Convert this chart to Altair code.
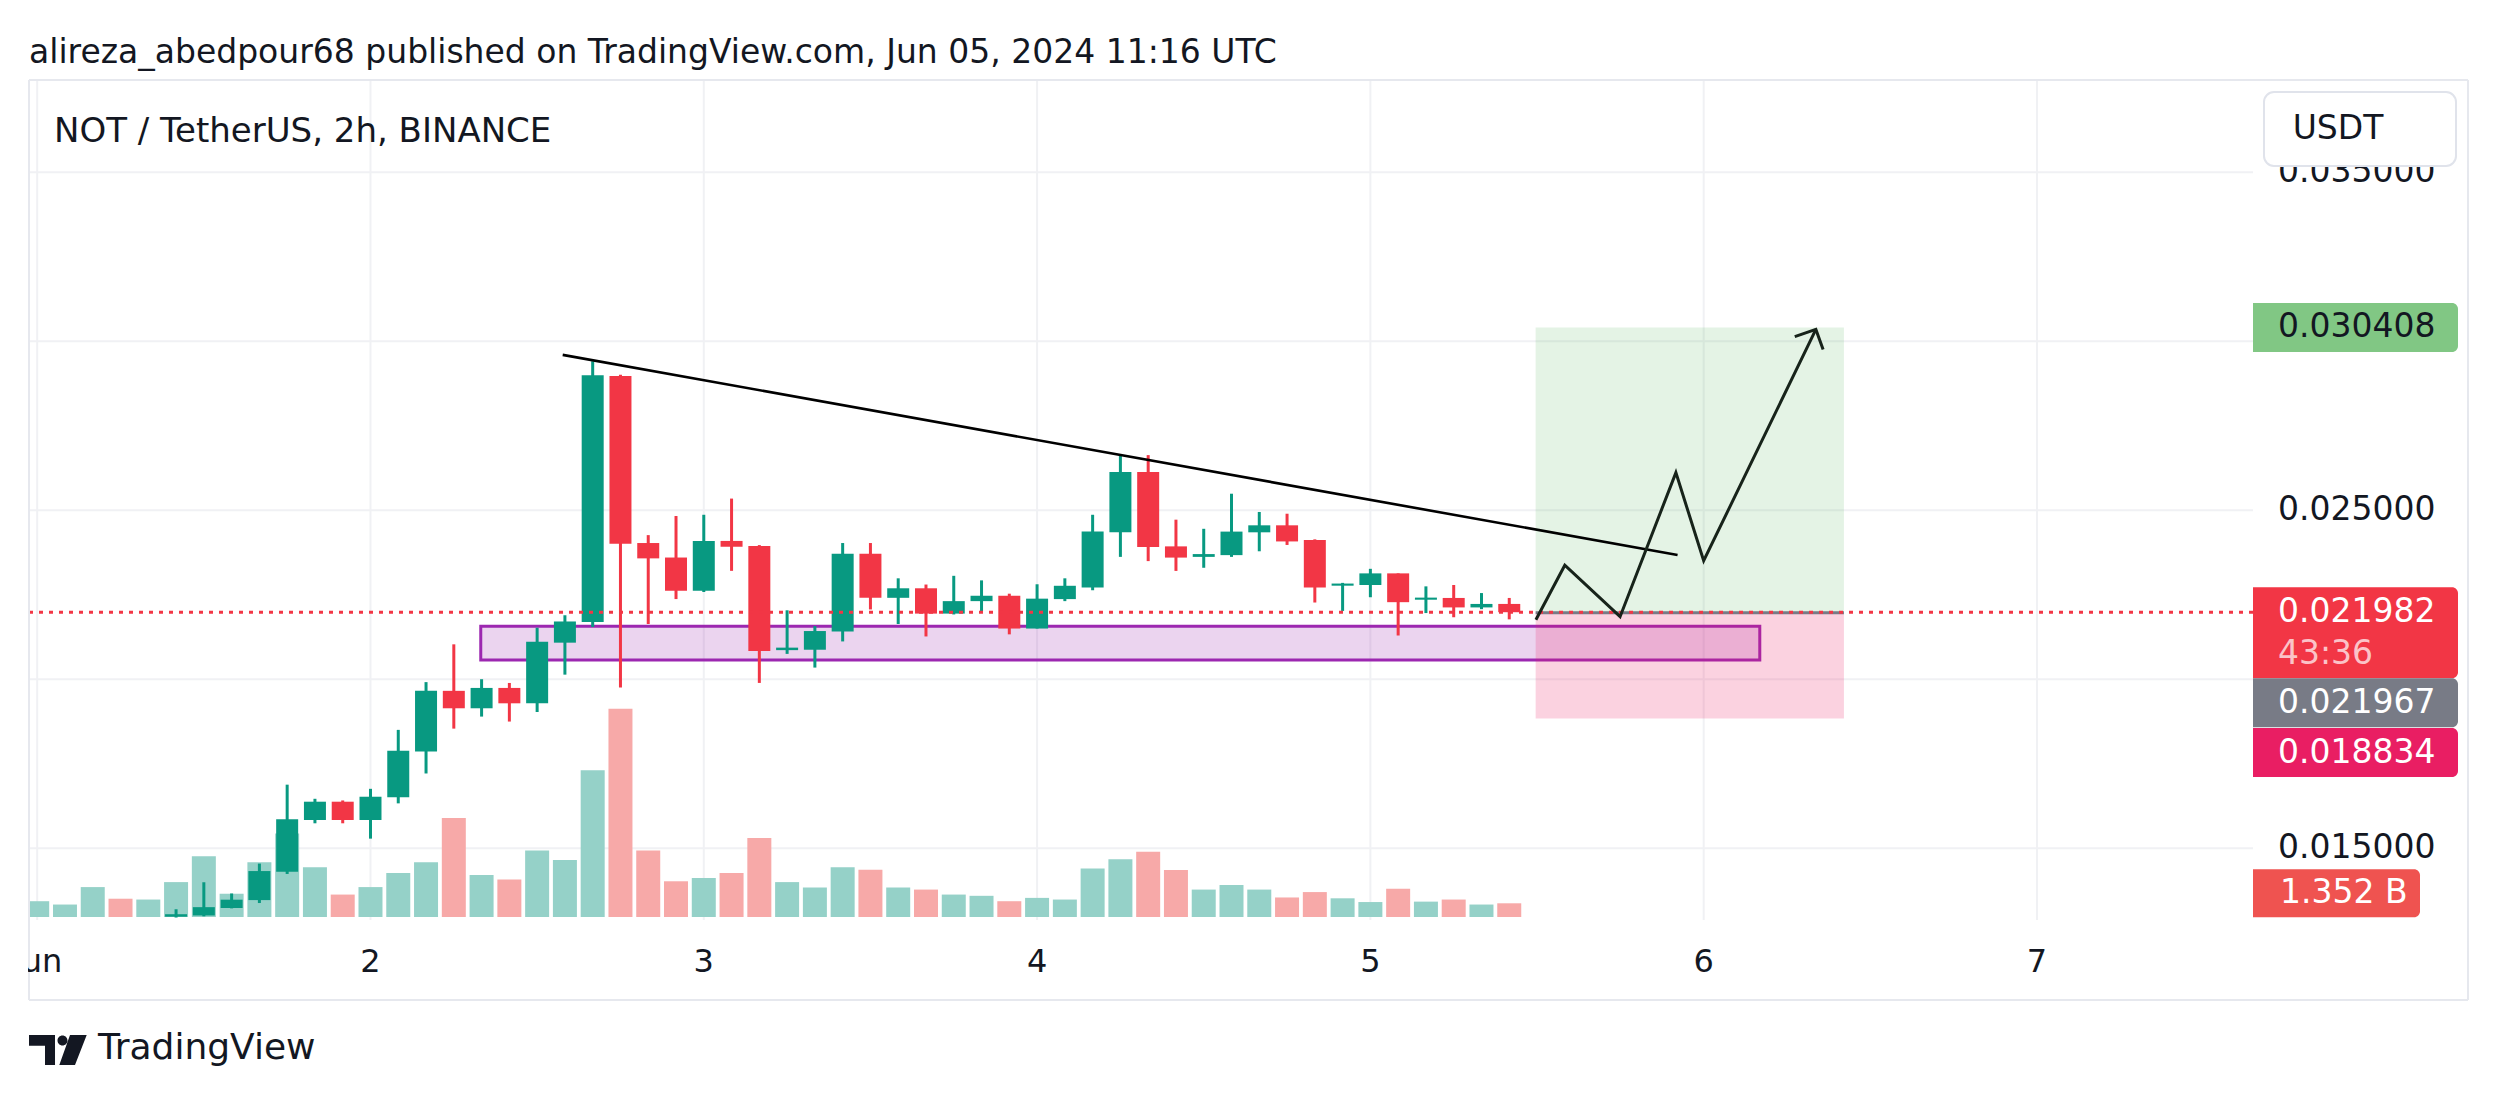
import altair as alt
import pandas as pd

# ------------------------------------------------------------------ data
candle_index = list(range(54))          # 2h candles, 0 = Jun 1 00:00
hidden_dirs = ["up", "up", "up", "down", "up"]   # candles 0-4 sit below the visible pane
opens = [None, None, None, None, None,
         0.012973, 0.013010, 0.013231, 0.013465, 0.014300, 0.015835, 0.016376, 0.015835, 0.016510, 0.017862,
         0.019656, 0.019140, 0.019742, 0.019287, 0.021081, 0.021695, 0.028968, 0.024029, 0.023600, 0.022617,
         0.024091, 0.023943, 0.020860, 0.020872, 0.021413, 0.023710, 0.022408, 0.022690, 0.021941, 0.022310,
         0.022469, 0.021499, 0.022370, 0.022716, 0.024346, 0.026132, 0.023930, 0.023619, 0.023671, 0.024346,
         0.024553, 0.024117, 0.022767, 0.022788, 0.023131, 0.022352, 0.022404, 0.022124, 0.022227]
highs = [None, None, None, None, None,
         0.013194, 0.013993, 0.013661, 0.014545, 0.016880, 0.016462, 0.016413, 0.016757, 0.018501, 0.019914,
         0.021032, 0.020000, 0.019889, 0.021523, 0.021892, 0.029410, 0.029005, 0.024263, 0.024828, 0.024865,
         0.025344, 0.023968, 0.022039, 0.021572, 0.024029, 0.024029, 0.022985, 0.022801, 0.023059, 0.022924,
         0.022530, 0.022809, 0.022985, 0.024865, 0.026630, 0.026630, 0.024720, 0.024450, 0.025488, 0.024948,
         0.024896, 0.024138, 0.022850, 0.023266, 0.023131, 0.022747, 0.022788, 0.022549, 0.022404]
lows = [None, None, None, None, None,
        0.012949, 0.012985, 0.013220, 0.013378, 0.014238, 0.015737, 0.015737, 0.015283, 0.016327, 0.017211,
        0.018538, 0.018894, 0.018747, 0.019029, 0.020135, 0.021548, 0.019754, 0.021634, 0.022371, 0.022580,
        0.023206, 0.019890, 0.020749, 0.020344, 0.021118, 0.022064, 0.021634, 0.021265, 0.021916, 0.022015,
        0.021327, 0.021499, 0.022310, 0.022632, 0.023619, 0.023494, 0.023204, 0.023297, 0.023619, 0.023785,
        0.023972, 0.022269, 0.022020, 0.022425, 0.021293, 0.021957, 0.021833, 0.022072, 0.021771]
closes = [None, None, None, None, None,
          0.013047, 0.013256, 0.013477, 0.014324, 0.015860, 0.016376, 0.015835, 0.016523, 0.017887, 0.019656,
          0.019140, 0.019742, 0.019287, 0.021106, 0.021708, 0.028993, 0.024005, 0.023575, 0.022617, 0.024091,
          0.023919, 0.020835, 0.020934, 0.021425, 0.023710, 0.022408, 0.022690, 0.021941, 0.022310, 0.022469,
          0.021499, 0.022383, 0.022764, 0.024367, 0.026132, 0.023910, 0.023598, 0.023702, 0.024367, 0.024553,
          0.024076, 0.022716, 0.022830, 0.023131, 0.022279, 0.022414, 0.022124, 0.022227, 0.021982]
volume_b = [1.557, 1.229, 2.950, 1.803, 1.721, 3.441, 5.982, 2.294, 5.408, 8.235,
            4.916, 2.212, 2.950, 4.343, 5.408, 9.751, 4.138, 3.687, 6.555, 5.613,
            14.46, 20.53, 6.555, 3.523, 3.851, 4.343, 7.784, 3.441, 2.909, 4.916,
            4.671, 2.909, 2.704, 2.212, 2.089, 1.557, 1.885, 1.721, 4.793, 5.695,
            6.432, 4.630, 2.704, 3.155, 2.704, 1.926, 2.458, 1.844, 1.475, 2.786,
            1.516, 1.721, 1.229, 1.352]

day_ticks = [0, 12, 24, 36, 48, 60, 72]
day_labels = ["Jun", "2", "3", "4", "5", "6", "7"]
price_ticks = [0.015, 0.020, 0.025, 0.030, 0.035]
# labels that are not hidden behind the price tags
price_label_values = [0.015, 0.025, 0.035]
price_label_texts = ["0.015000", "0.025000", "0.035000"]

current_price = 0.021982
entry_price = 0.021967
target_price = 0.030408
stop_price = 0.018834
countdown = "43:36"
last_volume = 1.352
last_volume_label = "1.352 B"

trend_i = [18.92, 59.06]
trend_p = [0.029595, 0.023676]
zone_i = [15.97, 62.02]
zone_p = [0.020565, 0.021565]
position_i = [53.95, 65.05]
zig_i = [53.96, 55.0, 56.99, 59.0, 60.0, 64.04]
zig_p = [0.021757, 0.023372, 0.021849, 0.026112, 0.023504, 0.030348]
arrow_i = [63.28, 64.04, 64.30]
arrow_p = [0.030136, 0.030348, 0.029752]

header_text = "alireza_abedpour68 published on TradingView.com, Jun 05, 2024 11:16 UTC"
legend_text = "NOT / TetherUS, 2h, BINANCE"
currency_text = "USDT"
brand_text = "TradingView"

# ------------------------------------------------------------------ style
W, H = 2224, 840
XD = [-0.115, 79.598]
PD = [0.012876, 0.037728]
VD = [-0.296, 82.54]
FONT = "DejaVu Sans"
TXT = "#131722"
GRID = "#f0f1f4"
UP, DN = "#089981", "#f23645"
VOL_UP, VOL_DN = "#95d1c8", "#f7a9a8"
FRAME = "#e6e8ee"

def xq(f):
    return alt.X(f, type="quantitative", scale=alt.Scale(domain=XD, nice=False, zero=False), axis=None)

def pq(f):
    return alt.Y(f, type="quantitative", scale=alt.Scale(domain=PD, nice=False, zero=False), axis=None)

def one(**kw):
    return pd.DataFrame({k: [v] for k, v in kw.items()})

# ------------------------------------------------------------------ tables
cdf = pd.DataFrame({"i": candle_index, "o": opens, "h": highs, "l": lows, "c": closes, "v": volume_b})
dirs = []
for k in range(len(candle_index)):
    if opens[k] is None:
        dirs.append(hidden_dirs[k])
    else:
        dirs.append("up" if closes[k] >= opens[k] else "down")
cdf["dir"] = dirs
cdf["ccol"] = cdf["dir"].map({"up": UP, "down": DN})
cdf["vcol"] = cdf["dir"].map({"up": VOL_UP, "down": VOL_DN})
cdf["zero"] = 0.0
candles = cdf.dropna(subset=["o"])

days = pd.DataFrame({"i": day_ticks, "lab": day_labels})
grid_prices = pd.DataFrame({"p": price_ticks})
prices = pd.DataFrame({"p": price_label_values, "lab": price_label_texts})
trend = pd.DataFrame({"i": trend_i, "p": trend_p, "k": [0, 1]})
zig = pd.DataFrame({"i": zig_i, "p": zig_p, "k": list(range(len(zig_i)))})
arrow = pd.DataFrame({"i": arrow_i, "p": arrow_p, "k": [0, 1, 2]})
zone = one(i0=zone_i[0], i1=zone_i[1], p0=zone_p[0], p1=zone_p[1])
profit = one(i0=position_i[0], i1=position_i[1], p0=entry_price, p1=target_price)
loss = one(i0=position_i[0], i1=position_i[1], p0=stop_price, p1=entry_price)

layers = []

# grid
layers.append(alt.Chart(days).mark_rule(color=GRID, strokeWidth=2).encode(
    x=xq("i"), y=alt.value(0), y2=alt.value(H)))
layers.append(alt.Chart(grid_prices).mark_rule(color=GRID, strokeWidth=2).encode(
    y=pq("p"), x=alt.value(0), x2=alt.value(W)))

# volume
layers.append(alt.Chart(cdf).mark_bar(width=24, clip=True).encode(
    x=xq("i"),
    y=alt.Y("v", type="quantitative", scale=alt.Scale(domain=VD, nice=False, zero=False), axis=None),
    y2="zero",
    color=alt.Color("vcol:N", scale=None, legend=None)))

# zone rectangle
layers.append(alt.Chart(zone).mark_rect(fill="#9c27b0", fillOpacity=0.2, stroke="#9c27b0",
                                         strokeWidth=3, clip=True).encode(
    x=xq("i0"), x2="i1", y=pq("p0"), y2="p1"))

# candles
layers.append(alt.Chart(candles).mark_rule(strokeWidth=3, clip=True).encode(
    x=xq("i"), y=pq("l"), y2="h", color=alt.Color("ccol:N", scale=None, legend=None)))
layers.append(alt.Chart(candles).mark_bar(width=22, clip=True).encode(
    x=xq("i"), y=pq("o"), y2="c", color=alt.Color("ccol:N", scale=None, legend=None)))

# long position
layers.append(alt.Chart(profit).mark_rect(color="#4caf50", opacity=0.15, clip=True).encode(
    x=xq("i0"), x2="i1", y=pq("p0"), y2="p1"))
layers.append(alt.Chart(loss).mark_rect(color="#e91e63", opacity=0.2, clip=True).encode(
    x=xq("i0"), x2="i1", y=pq("p0"), y2="p1"))
layers.append(alt.Chart(profit).mark_rule(color="#787b86", strokeWidth=3, clip=True).encode(
    x=xq("i0"), x2="i1", y=pq("p0")))

# current price line
layers.append(alt.Chart(one(p=current_price)).mark_rule(color=DN, strokeWidth=3, strokeDash=[4, 6]).encode(
    y=pq("p"), x=alt.value(0), x2=alt.value(W)))

# drawings
layers.append(alt.Chart(trend).mark_line(color="#000000", strokeWidth=2.6, clip=True).encode(
    x=xq("i"), y=pq("p"), order="k:Q"))
layers.append(alt.Chart(zig).mark_line(color="#17231a", strokeWidth=3, clip=True).encode(
    x=xq("i"), y=pq("p"), order="k:Q"))
layers.append(alt.Chart(arrow).mark_line(color="#17231a", strokeWidth=3, clip=True).encode(
    x=xq("i"), y=pq("p"), order="k:Q"))

# frame
for enc in [dict(x=alt.value(0), x2=alt.value(2439), y=alt.value(0)),
            dict(x=alt.value(0), x2=alt.value(2439), y=alt.value(920)),
            dict(x=alt.value(0), y=alt.value(0), y2=alt.value(920)),
            dict(x=alt.value(2439), y=alt.value(0), y2=alt.value(920))]:
    layers.append(alt.Chart(one(a=1)).mark_rule(color=FRAME, strokeWidth=2).encode(**enc))

# price axis labels
layers.append(alt.Chart(prices).mark_text(align="left", baseline="middle", font=FONT, fontSize=33,
                                           color=TXT).encode(
    y=pq("p"), x=alt.value(W + 25), text="lab:N"))

# time axis labels
layers.append(alt.Chart(days).mark_text(align="center", baseline="middle", font=FONT, fontSize=32,
                                         color=TXT).encode(
    x=xq("i"), y=alt.value(882), text="lab:N"))
layers.append(alt.Chart(one(a=1)).mark_rect(color="white").encode(
    x=alt.value(-21), x2=alt.value(-1), y=alt.value(855), y2=alt.value(910)))

# currency box
layers.append(alt.Chart(one(t=currency_text)).mark_rect(fill="white", stroke="#e0e3eb", strokeWidth=2,
                                                        cornerRadius=10).encode(
    x=alt.value(2235), x2=alt.value(2427), y=alt.value(12), y2=alt.value(86)))
layers.append(alt.Chart(one(t=currency_text)).mark_text(align="center", baseline="middle", font=FONT,
                                                        fontSize=33, color=TXT).encode(
    x=alt.value(2309), y=alt.value(49), text="t:N"))

# price tags
def tag(value, label, fill, textcol, off0, off1, dy=0):
    d = one(p=value, t=label)
    box = alt.Chart(d).mark_rect(color=fill, yOffset=off0, y2Offset=off1, cornerRadiusTopRight=6,
                                 cornerRadiusBottomRight=6).encode(
        y=pq("p"), y2="p", x=alt.value(W), x2=alt.value(W + 205))
    txt = alt.Chart(d).mark_text(align="left", baseline="middle", font=FONT, fontSize=33, color=textcol,
                                 dy=dy).encode(
        y=pq("p"), x=alt.value(W + 25), text="t:N")
    return [box, txt]

layers += tag(target_price, f"{target_price:.6f}", "#81c784", TXT, -24.5, 24.5)
layers += tag(current_price, f"{current_price:.6f}", "#f23645", "white", -25, 66)
layers.append(alt.Chart(one(p=current_price, t=countdown)).mark_text(
    align="left", baseline="middle", font=FONT, fontSize=33, color="#fbc3c8", dy=42).encode(
    y=pq("p"), x=alt.value(W + 25), text="t:N"))
layers += tag(entry_price, f"{entry_price:.6f}", "#787b86", "white", 65.5, 114.5, dy=90)
layers += tag(stop_price, f"{stop_price:.6f}", "#e91e63", "white", 9.5, 58.5, dy=34)

# volume tag
vd = one(v=last_volume, t=last_volume_label)
vy = alt.Y("v", type="quantitative", scale=alt.Scale(domain=VD, nice=False, zero=False), axis=None)
layers.append(alt.Chart(vd).mark_rect(color="#ef5350", yOffset=-34, y2Offset=14, cornerRadiusTopRight=6,
                                      cornerRadiusBottomRight=6).encode(
    y=vy, y2="v", x=alt.value(W), x2=alt.value(W + 167)))
layers.append(alt.Chart(vd).mark_text(align="left", baseline="middle", font=FONT, fontSize=33,
                                      color="white", dy=-10).encode(
    y=vy, x=alt.value(W + 27), text="t:N"))

# header & legend
layers.append(alt.Chart(one(t=header_text)).mark_text(align="left", baseline="middle", font=FONT,
                                                      fontSize=33, color=TXT).encode(
    x=alt.value(0), y=alt.value(-27), text="t:N"))
layers.append(alt.Chart(one(t=legend_text)).mark_text(align="left", baseline="middle", font=FONT,
                                                      fontSize=34, color=TXT).encode(
    x=alt.value(25), y=alt.value(52), text="t:N"))

# brand
logo_path = ("M-1,-0.517 L-0.103,-0.517 L-0.103,0.517 L-0.448,0.517 L-0.448,-0.148 L-1,-0.148 Z "
             "M-0.017,-0.328 A0.172,0.172 0 1,0 0.327,-0.328 A0.172,0.172 0 1,0 -0.017,-0.328 Z "
             "M0.414,-0.517 L0.990,-0.517 L0.586,0.517 L0.045,0.517 Z")
layers.append(alt.Chart(one(t=brand_text)).mark_point(shape=logo_path, size=3364, filled=True, color=TXT,
                                                      opacity=1, strokeWidth=0).encode(
    x=alt.value(29), y=alt.value(970)))
layers.append(alt.Chart(one(t=brand_text)).mark_text(align="left", baseline="middle", font=FONT,
                                                     fontSize=36, color=TXT).encode(
    x=alt.value(69), y=alt.value(968), text="t:N"))

chart = alt.layer(*layers).resolve_scale(y="independent").properties(
    width=W, height=H,
    autosize=alt.AutoSizeParams(type="none"),
    padding={"left": 21, "top": 72, "right": 239, "bottom": 175},
    background="white",
).configure_view(stroke=None)

chart.save("out.html", embed_options={"renderer": "svg", "actions": False})
